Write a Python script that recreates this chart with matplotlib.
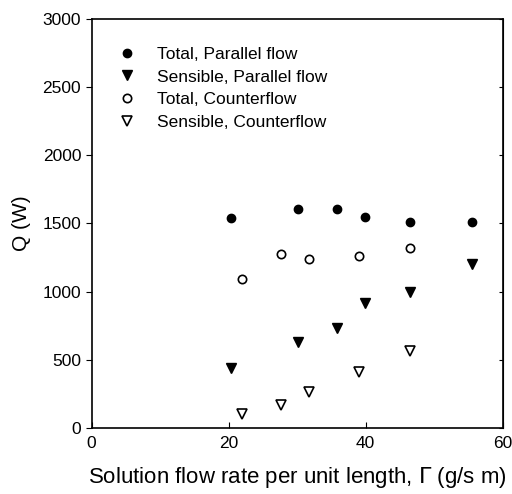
import matplotlib.pyplot as plt
import numpy as np

plt.rcParams['font.family'] = ['Liberation Sans', 'DejaVu Sans']

# flow rate per unit length (g/s m)
gamma_par = [20.4, 30.1, 35.8, 39.9, 46.4, 55.5]
gamma_cnt = [22.0, 27.6, 31.7, 39.0, 46.4]

total_par = [1538, 1607, 1607, 1546, 1514, 1509]
sens_par = [438, 633, 731, 915, 995, 1201]
total_cnt = [1091, 1277, 1237, 1264, 1318]
sens_cnt = [103, 169, 262, 413, 565]

fig = plt.figure(figsize=(5.12, 4.94), dpi=100)
ax = fig.add_axes([0.179, 0.1336, 0.803, 0.828])

ax.plot(gamma_par, total_par, 'o', color='black', ms=6, label='Total, Parallel flow')
ax.plot(gamma_par, sens_par, 'v', color='black', ms=6.5, label='Sensible, Parallel flow')
ax.plot(gamma_cnt, total_cnt, 'o', mfc='white', mec='black', mew=1.2, ms=6,
        label='Total, Counterflow')
ax.plot(gamma_cnt, sens_cnt, 'v', mfc='white', mec='black', mew=1.2, ms=6.5,
        label='Sensible, Counterflow')

ax.set_xlim(0, 60)
ax.set_ylim(0, 3000)
ax.set_xticks([0, 20, 40, 60])
ax.set_yticks(np.arange(0, 3001, 500))
ax.tick_params(axis='y', direction='out', length=4, labelsize=12.5, left=True, right=False)
ax.tick_params(axis='x', direction='in', length=4, labelsize=12.5, pad=6)
ax2 = ax.secondary_yaxis('right')
ax2.set_yticks(np.arange(0, 3001, 500))
ax2.tick_params(direction='in', length=3, labelright=False)

for s in ax.spines.values():
    s.set_linewidth(1.2)

ax.set_xlabel('Solution flow rate per unit length, $\\Gamma$ (g/s m)', fontsize=16, labelpad=10)
ax.set_ylabel('Q (W)', fontsize=15, labelpad=8)

ax.legend(loc='upper left', frameon=False, fontsize=12.5, handletextpad=0.72,
          handlelength=2.0, labelspacing=0.43, borderpad=0, borderaxespad=0,
          bbox_to_anchor=(0.044, 0.932))

plt.savefig('out.png', dpi=100)
